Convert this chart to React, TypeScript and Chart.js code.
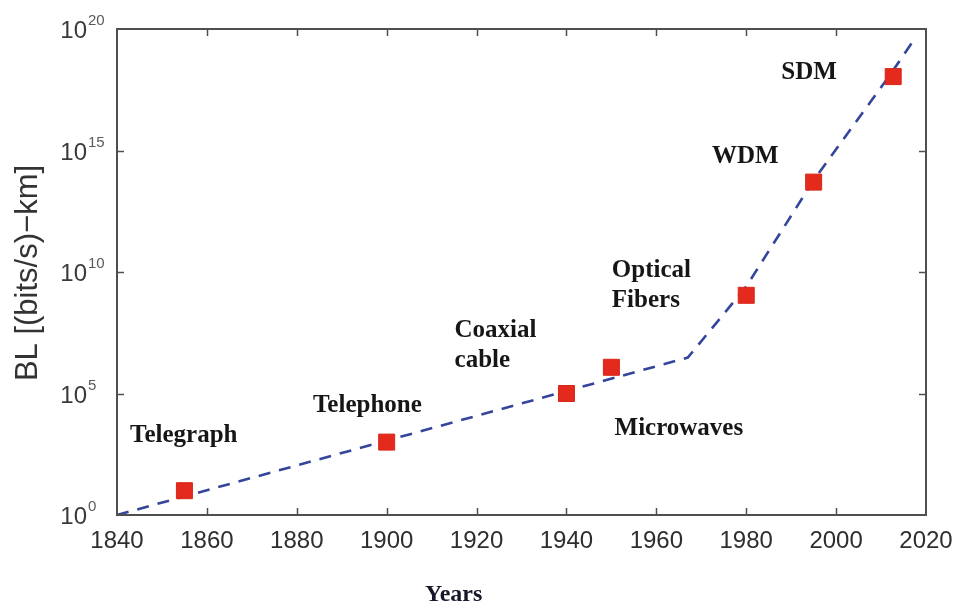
import React, { useEffect, useRef } from "react";
import { Chart, registerables } from "chart.js";

Chart.register(...registerables);

// Milestone markers (year, bit-rate × distance)
const markerYears = [1855, 1900, 1940, 1950, 1980, 1995, 2012.7];
const markerValues = [1e1, 1e3, 1e5, 1.2e6, 1.1e9, 5e13, 1.1e18];

// Dashed trend line
const trendYears = [1840, 1967, 1980, 1995, 2012, 2017.5];
const trendValues = [1, 3e6, 2.5e9, 6e13, 1.3e18, 4e19];

// Axis ticks
const xTicks = [1840, 1860, 1880, 1900, 1920, 1940, 1960, 1980, 2000, 2020];
const yExponents = [0, 5, 10, 15, 20];

// Technology annotations (text lines, anchor year, anchor value)
const techLabels = [["Telegraph"], ["Telephone"], ["Coaxial", "cable"], ["Microwaves"], ["Optical", "Fibers"], ["WDM"], ["SDM"]];
const techYears = [1842.9, 1883.6, 1915.1, 1950.7, 1950.1, 1972.4, 1987.8];
const techValues = [1e3, 1.7e4, 2.1e7, 1.95e3, 6.3e9, 3.1e14, 8.7e17];

const xTitle = "Years";
const yTitle = "BL [(bits/s)\u2212km]";

const overlay = {
  id: "overlay",
  afterDraw(chart: any) {
    const { ctx, chartArea: a, scales } = chart;
    const xs = scales.x;
    const ys = scales.y;
    ctx.save();
    // frame
    ctx.strokeStyle = "#4f4f4f";
    ctx.lineWidth = 2;
    ctx.strokeRect(a.left, a.top, a.right - a.left, a.bottom - a.top);
    ctx.lineWidth = 1.5;
    ctx.beginPath();
    xTicks.forEach((t) => {
      const px = Math.round(xs.getPixelForValue(t)) + 0.5;
      if (t === xTicks[0] || t === xTicks[xTicks.length - 1]) return;
      ctx.moveTo(px, a.bottom);
      ctx.lineTo(px, a.bottom - 7);
      ctx.moveTo(px, a.top);
      ctx.lineTo(px, a.top + 7);
    });
    yExponents.forEach((e) => {
      if (e === 0 || e === 20) return;
      const py = Math.round(ys.getPixelForValue(Math.pow(10, e))) + 0.5;
      ctx.moveTo(a.left, py);
      ctx.lineTo(a.left + 7, py);
      ctx.moveTo(a.right, py);
      ctx.lineTo(a.right - 7, py);
    });
    ctx.stroke();

    // x tick labels
    ctx.fillStyle = "#2e2e2e";
    ctx.font = "24px 'Liberation Sans', Arial, sans-serif";
    ctx.textAlign = "center";
    ctx.textBaseline = "alphabetic";
    xTicks.forEach((t) => {
      ctx.fillText(String(t), xs.getPixelForValue(t), a.bottom + 33);
    });

    // y tick labels 10^n
    yExponents.forEach((e) => {
      const py = ys.getPixelForValue(Math.pow(10, e));
      ctx.font = "24px 'Liberation Sans', Arial, sans-serif";
      ctx.fillStyle = "#3a3a3a";
      ctx.textAlign = "right";
      ctx.fillText("10", a.left - 30, py + 9);
      ctx.font = "15px 'Liberation Sans', Arial, sans-serif";
      ctx.fillStyle = "#5a5a5a";
      ctx.textAlign = "left";
      ctx.fillText(String(e), a.left - 29, py - 4);
    });

    // y title
    ctx.save();
    ctx.translate(37, 273);
    ctx.rotate(-Math.PI / 2);
    ctx.font = "31px 'Liberation Sans', Arial, sans-serif";
    ctx.fillStyle = "#333";
    ctx.textAlign = "center";
    ctx.fillText(yTitle, 0, 0);
    ctx.restore();

    // x title
    ctx.font = "bold 24px 'Liberation Serif', 'Times New Roman', serif";
    ctx.fillStyle = "#17172a";
    ctx.textAlign = "left";
    ctx.fillText(xTitle, 425, 601);

    // annotations
    ctx.font = "bold 25px 'Liberation Serif', 'Times New Roman', serif";
    ctx.fillStyle = "#161616";
    techLabels.forEach((lines, i) => {
      const px = xs.getPixelForValue(techYears[i]);
      const py = ys.getPixelForValue(techValues[i]);
      lines.forEach((ln, j) => ctx.fillText(ln, px, py + j * 30));
    });
    ctx.restore();
  },
};

export default function App() {
  const ref = useRef<HTMLCanvasElement>(null);
  useEffect(() => {
    if (!ref.current) return;
    const chart = new Chart(ref.current, {
      type: "line",
      data: {
        datasets: [
          {
            label: "trend",
            data: trendYears.map((x, i) => ({ x, y: trendValues[i] })),
            borderColor: "#34459b",
            borderWidth: 2.6,
            borderDash: [12, 9],
            pointRadius: 0,
            fill: false,
            tension: 0,
            clip: false as any,
            order: 2,
          },
          {
            label: "milestones",
            data: markerYears.map((x, i) => ({ x, y: markerValues[i] })),
            showLine: false,
            pointStyle: "rect",
            pointRadius: 11.3,
            backgroundColor: "#e42a1c",
            borderColor: "#d8261a",
            borderWidth: 1,
            clip: false as any,
            order: 1,
          },
        ],
      },
      options: {
        animation: false,
        responsive: false,
        layout: { padding: { left: 117, right: 32, top: 29, bottom: 94 } },
        plugins: { legend: { display: false }, tooltip: { enabled: false } },
        scales: {
          x: { type: "linear", min: 1840, max: 2020, display: false },
          y: { type: "logarithmic", min: 1, max: 1e20, display: false },
        },
      },
      plugins: [overlay],
    });
    return () => chart.destroy();
  }, []);
  return (
    <canvas
      ref={ref}
      width={958}
      height={609}
      style={{ position: "absolute", left: 0, top: 0, width: 958, height: 609, background: "#fff" }}
    />
  );
}
